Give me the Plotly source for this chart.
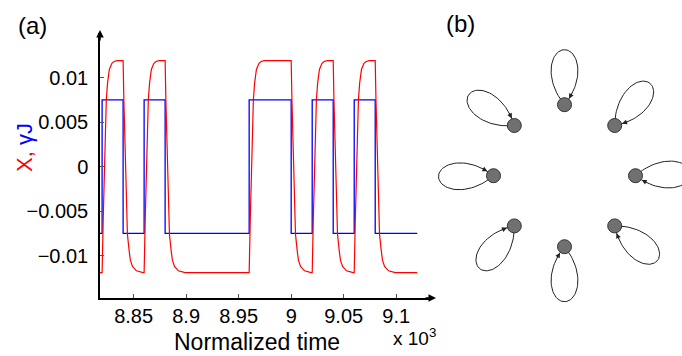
import math
import plotly.graph_objects as go

# ---------------- Panel (a) data (time in units of 10^3) ----------------
blue_t = [8.818, 8.82, 8.84, 8.86, 8.88, 8.96, 9.00, 9.02, 9.04, 9.06, 9.08, 9.12]
blue_J = [-0.0075, 0.0075, -0.0075, 0.0075, -0.0075, 0.0075, -0.0075, 0.0075,
          -0.0075, 0.0075, -0.0075, -0.0075]

red_t = [8.8180,
         8.8200, 8.8210, 8.8221, 8.8240, 8.8252, 8.8269, 8.8293, 8.8314, 8.8343,
         8.8400, 8.8407, 8.8422, 8.8441, 8.8457, 8.8469, 8.8489, 8.8527, 8.8590,
         8.8600, 8.8610, 8.8621, 8.8640, 8.8652, 8.8669, 8.8693, 8.8714, 8.8743,
         8.8800, 8.8807, 8.8822, 8.8841, 8.8857, 8.8869, 8.8889, 8.8927, 8.8990,
         8.9600, 8.9610, 8.9621, 8.9640, 8.9652, 8.9669, 8.9693, 8.9714, 8.9743,
         9.0000, 9.0007, 9.0022, 9.0041, 9.0057, 9.0069, 9.0089, 9.0127, 9.0190,
         9.0200, 9.0210, 9.0221, 9.0240, 9.0252, 9.0269, 9.0293, 9.0314, 9.0343,
         9.0400, 9.0407, 9.0422, 9.0441, 9.0457, 9.0469, 9.0489, 9.0527, 9.0590,
         9.0600, 9.0610, 9.0621, 9.0640, 9.0652, 9.0669, 9.0693, 9.0714, 9.0743,
         9.0800, 9.0807, 9.0822, 9.0841, 9.0857, 9.0869, 9.0889, 9.0927, 9.0990,
         9.1200]
red_X = [-0.0119,
         -0.0119, -0.0062, -0.0004, 0.0075, 0.0094, 0.0109, 0.0116, 0.0118, 0.0119,
         0.0119, 0.0075, -0.0004, -0.0076, -0.0094, -0.0105, -0.0112, -0.0117, -0.0119,
         -0.0119, -0.0062, -0.0004, 0.0075, 0.0094, 0.0109, 0.0116, 0.0118, 0.0119,
         0.0119, 0.0075, -0.0004, -0.0076, -0.0094, -0.0105, -0.0112, -0.0117, -0.0119,
         -0.0119, -0.0062, -0.0004, 0.0075, 0.0094, 0.0109, 0.0116, 0.0118, 0.0119,
         0.0119, 0.0075, -0.0004, -0.0076, -0.0094, -0.0105, -0.0112, -0.0117, -0.0119,
         -0.0119, -0.0062, -0.0004, 0.0075, 0.0094, 0.0109, 0.0116, 0.0118, 0.0119,
         0.0119, 0.0075, -0.0004, -0.0076, -0.0094, -0.0105, -0.0112, -0.0117, -0.0119,
         -0.0119, -0.0062, -0.0004, 0.0075, 0.0094, 0.0109, 0.0116, 0.0118, 0.0119,
         0.0119, 0.0075, -0.0004, -0.0076, -0.0094, -0.0105, -0.0112, -0.0117, -0.0119,
         -0.0119]

x_tickvals = [8.85, 8.9, 8.95, 9.0, 9.05, 9.1]
x_ticktext = ["8.85", "8.9", "8.95", "9", "9.05", "9.1"]
y_tickvals = [-0.01, -0.005, 0, 0.005, 0.01]
y_ticktext = ["\u22120.01", "\u22120.005", "0", "0.005", "0.01"]

# ---------------- Panel (b) data: 8 self-looped nodes ----------------
node_angle_deg = [90, 135, 180, 225, 270, 315, 0, 45]
loop_axis_deg = [90, 146, 181, 231, 270, 321, 2, 50]

W, H = 682, 356
FONT = "Arial, Liberation Sans, sans-serif"

fig = go.Figure()
fig.add_trace(go.Scatter(x=blue_t, y=blue_J, mode="lines",
                         line=dict(color="#0000ff", width=1.3, shape="hv"),
                         xaxis="x", yaxis="y", showlegend=False, hoverinfo="skip"))
fig.add_trace(go.Scatter(x=red_t, y=red_X, mode="lines",
                         line=dict(color="#ff0000", width=1.2),
                         xaxis="x", yaxis="y", showlegend=False, hoverinfo="skip"))

# panel (b) geometry (pixel-like coordinates on hidden axes)
cx, cy, R = 564.5, 175.7, 71.0
node_r, L, delta = 7.0, 55.0, 40.0
nx = [cx + R * math.cos(math.radians(a)) for a in node_angle_deg]
ny = [cy - R * math.sin(math.radians(a)) for a in node_angle_deg]

lx, ly = [], []
annotations = []
for x0, y0, ax_deg in zip(nx, ny, loop_axis_deg):
    n = 60
    for i in range(n + 1):
        phi = -delta + 2 * delta * i / n
        r = L * math.cos(math.radians(phi / delta * 90))
        th = math.radians(ax_deg + phi)
        lx.append(x0 + r * math.cos(th))
        ly.append(y0 - r * math.sin(th))
    lx.append(None)
    ly.append(None)

    def pt(r, x0=x0, y0=y0, ax_deg=ax_deg):
        phi = -delta * math.degrees(math.acos(r / L)) / 90
        th = math.radians(ax_deg + phi)
        return x0 + r * math.cos(th), y0 - r * math.sin(th)

    hx, hy = pt(node_r + 0.5)
    tx, ty = pt(15)
    annotations.append(dict(x=hx, y=hy, ax=tx, ay=ty, xref="x2", yref="y2",
                            axref="x2", ayref="y2", showarrow=True, text="",
                            arrowhead=2, arrowsize=1, arrowwidth=1,
                            arrowcolor="#222", standoff=0))

fig.add_trace(go.Scatter(x=lx, y=ly, mode="lines", line=dict(color="#222", width=1),
                         xaxis="x2", yaxis="y2", showlegend=False, hoverinfo="skip"))
fig.add_trace(go.Scatter(x=nx, y=ny, mode="markers",
                         marker=dict(size=14, color="#707070", line=dict(color="#333", width=1)),
                         xaxis="x2", yaxis="y2", showlegend=False, hoverinfo="skip"))

# axis arrows
annotations.append(dict(x=436 / W, y=1 - 298 / H, xref="paper", yref="paper",
                        ax=-12, ay=0, showarrow=True, text="", arrowhead=2,
                        arrowsize=1, arrowwidth=1.5, arrowcolor="black"))
annotations.append(dict(x=100 / W, y=1 - 30 / H, xref="paper", yref="paper",
                        ax=0, ay=12, showarrow=True, text="", arrowhead=2,
                        arrowsize=1, arrowwidth=1.5, arrowcolor="black"))


def label(x, y, text, size, **kw):
    d = dict(x=x / W, y=1 - y / H, xref="paper", yref="paper", text=text,
             showarrow=False, xanchor="center", yanchor="middle",
             font=dict(size=size, family=FONT, color="black"))
    d.update(kw)
    return d


annotations += [
    label(32, 25, "(a)", 24),
    label(461, 24, "(b)", 24),
    label(257, 342, "Normalized time", 23),
    label(414, 337, "x 10<sup>3</sup>", 19),
    label(24, 148, '<span style="color:#ff0000">X,</span> <span style="color:#0000ff">\u03b3J</span>',
          22, textangle=-90),
]

fig.update_layout(
    width=W, height=H, margin=dict(l=0, r=0, t=0, b=0),
    paper_bgcolor="white", plot_bgcolor="white",
    font=dict(family=FONT, color="black"),
    xaxis=dict(domain=[100 / W, 433 / W], range=[8.818, 9.135], anchor="y",
               showline=True, linecolor="black", linewidth=1.5,
               ticks="inside", ticklen=4, tickcolor="#555", tickwidth=1,
               tickvals=x_tickvals, ticktext=x_ticktext,
               tickfont=dict(size=20, family=FONT), showgrid=False, zeroline=False,
               ticklabelstandoff=-1),
    yaxis=dict(domain=[1 - 298 / H, 1 - 33 / H], range=[-0.01475, 0.0150], anchor="x",
               showline=True, linecolor="black", linewidth=1.5,
               ticks="inside", ticklen=4, tickcolor="#555", tickwidth=1,
               tickvals=y_tickvals, ticktext=y_ticktext,
               tickfont=dict(size=20, family=FONT), showgrid=False, zeroline=False,
               ticklabelstandoff=6),
    xaxis2=dict(domain=[430 / W, 1], range=[430, 682], anchor="y2", visible=False),
    yaxis2=dict(domain=[0, 1], range=[356, 0], anchor="x2", visible=False),
    annotations=annotations,
)

fig.write_html("out.html")
